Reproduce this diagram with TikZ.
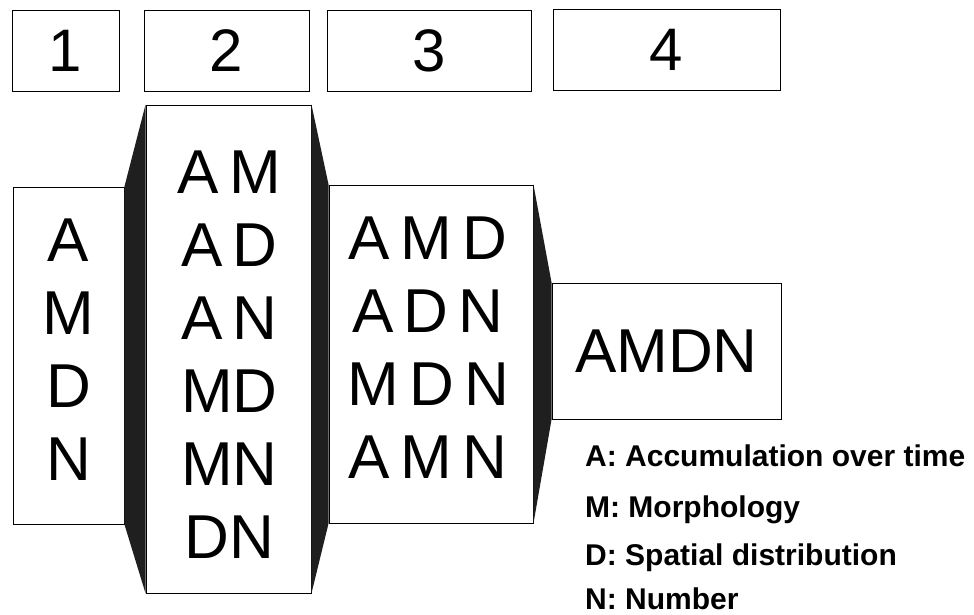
\documentclass[tikz,border=0pt]{standalone}
\usepackage{fontspec}
\setmainfont{Liberation Sans}
\tikzset{numbox/.style={draw,line width=0.9pt,inner sep=0pt,minimum height=81pt,font=\fontsize{60}{60}\selectfont},
  colbox/.style={draw,line width=0.9pt,inner sep=0pt},
  coltext/.style={inner sep=0pt,align=center,font=\fontsize{62}{73}\selectfont},
  legend/.style={anchor=base west,inner sep=0pt,font=\bfseries\fontsize{30}{30}\selectfont},
  joint/.style={fill=black!88}}

\begin{document}
\begin{tikzpicture}[x=1pt,y=-1pt]
    \useasboundingbox (0,0) rectangle (974,615);
    % stage numbers
    \node[numbox,minimum width=107pt] (n1) at (65.5,50.5) {1};
    \node[numbox,minimum width=165pt] (n2) at (226.5,50.5) {2};
    \node[numbox,minimum width=204pt] (n3) at (429,50.5) {3};
    \node[numbox,minimum width=227pt] (n4) at (666.5,49.5) {4};
    % combinations
    \node[colbox,minimum width=111pt,minimum height=337pt] (c1) at (68.5,355.5) {};
    \node[colbox,minimum width=165pt,minimum height=488pt] (c2) at (228.5,349) {};
    \node[colbox,minimum width=204pt,minimum height=338pt] (c3) at (431,354) {};
    \node[colbox,minimum width=229pt,minimum height=136pt] (c4) at (666.5,351) {};
    \node[coltext] (t1) at ([yshift=6pt]c1) {A\\M\\D\\N};
    \node[coltext] (t2) at ([xshift=1pt,yshift=-6pt]c2) {A\,M\\A\,D\\A\,N\\MD\\MN\\DN};
    \node[coltext] (t3) at ([xshift=-3pt,yshift=6pt]c3) {A\,M\,D\\A\,D\,N\\M\,D\,N\\A\,M\,N};
    \node[coltext] (t4) at (c4) {AMDN};
    \fill[joint] (c1.north east) -- (c2.north west) -- (c2.south west) -- (c1.south east) -- cycle;
    \fill[joint] (c2.north east) -- (c3.north west) -- (c3.south west) -- (c2.south east) -- cycle;
    \fill[joint] (c3.north east) -- (c4.north west) -- (c4.south west) -- (c3.south east) -- cycle;
    % key
    \node[legend] (la) at (585,466) {A: Accumulation over time};
    \node[legend] (lm) at (585,517) {M: Morphology};
    \node[legend] (ld) at (585,565) {D: Spatial distribution};
    \node[legend] (ln) at (585,609) {N: Number};
\end{tikzpicture}
\end{document}
